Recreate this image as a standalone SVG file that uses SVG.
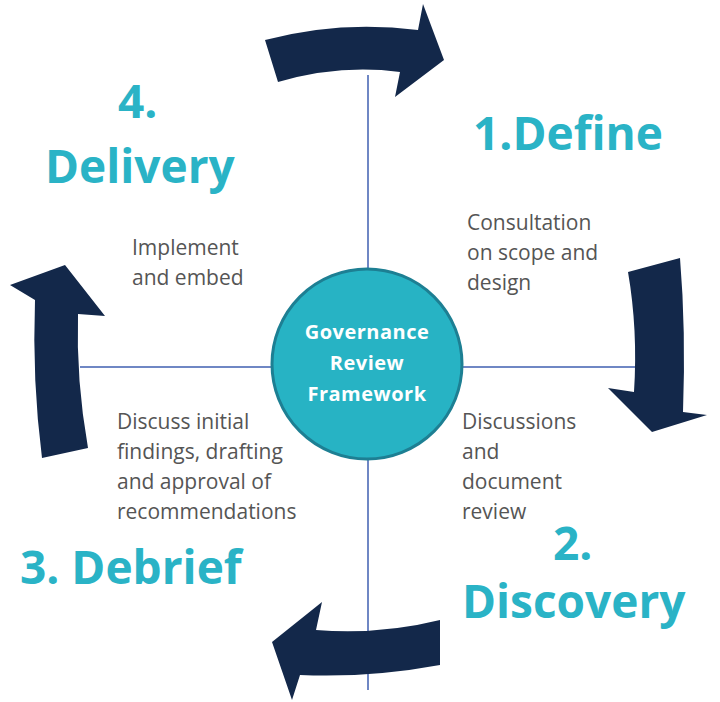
<svg xmlns="http://www.w3.org/2000/svg" width="720" height="702" viewBox="0 0 720 702">
<style>
.arr{fill:#13284a}
.ln{stroke:#6f87c4;stroke-width:2;fill:none}
.big{font-family:"Open Sans","Liberation Sans",sans-serif;font-weight:bold;font-size:46px;fill:#2ab3c6}
.sm{font-family:"Open Sans","Liberation Sans",sans-serif;font-size:21px;fill:#555}
.ct{font-family:"Open Sans","Liberation Sans",sans-serif;font-weight:bold;font-size:20px;letter-spacing:0.5px;fill:#fff;text-anchor:middle}
</style>
<rect width="720" height="702" fill="#fff"/>
<g id="connectors">
<line class="ln" x1="368" y1="75" x2="368" y2="690"/>
<line class="ln" x1="80" y1="367" x2="636" y2="367"/>
</g>
<g id="arrows">
<path class="arr" d="M265,40 Q340,20 418,30 L423,4 L444,60 L395,97 L400,72 Q340,64 278,82 Z"/>
<path class="arr" d="M628,272 L680,258 Q686,330 683,412 L707,415 L652,432 L608,388 L634,392 Q638,330 628,272 Z"/>
<path class="arr" d="M440,620 Q380,635 316,630 L322,602 L272,642 L292,700 L300,675 Q370,678 440,665 Z"/>
<path class="arr" d="M88,448 Q76,380 78,314 L105,316 L65,265 L10,285 L35,300 Q32,380 42,458 Z"/>
</g>
<g id="center">
<circle cx="367" cy="364" r="95" fill="#27b3c4" stroke="#1d7f93" stroke-width="3"/>
<text class="ct" x="367" y="339">Governance</text>
<text class="ct" x="367" y="370">Review</text>
<text class="ct" x="367" y="401">Framework</text>
</g>
<g id="define">
<text class="big" x="473" y="150">1.Define</text>
<text class="sm" x="467" y="230">Consultation</text>
<text class="sm" x="467" y="260">on scope and</text>
<text class="sm" x="467" y="290">design</text>
</g>
<g id="discovery">
<text class="big" x="553" y="560">2.</text>
<text class="big" x="462" y="618">Discovery</text>
<text class="sm" x="462" y="429">Discussions</text>
<text class="sm" x="462" y="459">and</text>
<text class="sm" x="462" y="489">document</text>
<text class="sm" x="462" y="519">review</text>
</g>
<g id="debrief">
<text class="big" x="20" y="584">3. Debrief</text>
<text class="sm" x="117" y="429">Discuss initial</text>
<text class="sm" x="117" y="459">findings, drafting</text>
<text class="sm" x="117" y="489">and approval of</text>
<text class="sm" x="117" y="519">recommendations</text>
</g>
<g id="delivery">
<text class="big" x="118" y="118">4.</text>
<text class="big" x="45" y="183">Delivery</text>
<text class="sm" x="132" y="255">Implement</text>
<text class="sm" x="132" y="285">and embed</text>
</g>
</svg>
